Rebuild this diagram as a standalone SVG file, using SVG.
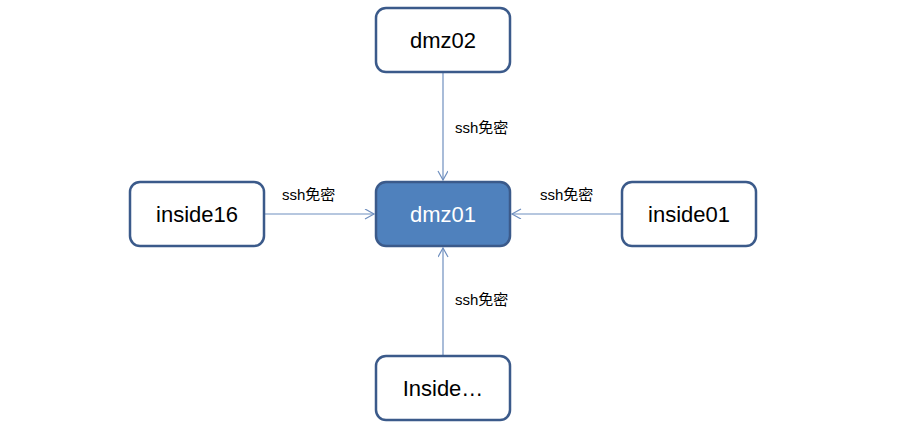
<svg xmlns="http://www.w3.org/2000/svg" width="900" height="429" viewBox="0 0 900 429">
<style>
.n{fill:#fff;stroke:#3b5a8a;stroke-width:2.5}
.c{fill:#4f81bd;stroke:#3b5a8a;stroke-width:2.5}
.t{font-family:"Liberation Sans",Arial,sans-serif;font-size:22px;text-anchor:middle;fill:#000}
.l{font-family:"Liberation Sans","Noto Sans CJK SC",sans-serif;font-size:15px;fill:#000}
.e{stroke:#6f8fbf;stroke-width:1.2;fill:none;marker-end:url(#a)}
</style>
<defs><marker id="a" markerWidth="12" markerHeight="12" refX="10" refY="5" orient="auto" markerUnits="userSpaceOnUse"><path d="M1,0 L10,5 L1,10" fill="none" stroke="#6f8fbf" stroke-width="1.2"/></marker></defs>
<g id="edges">
<line class="e" x1="443" y1="73" x2="443" y2="180"/>
<line class="e" x1="265" y1="214" x2="374" y2="214"/>
<line class="e" x1="621" y1="214" x2="512" y2="214"/>
<line class="e" x1="443" y1="355" x2="443" y2="248"/>
<text class="l" x="455" y="133">ssh免密</text>
<text class="l" x="282" y="200">ssh免密</text>
<text class="l" x="540" y="200">ssh免密</text>
<text class="l" x="455" y="305">ssh免密</text>
</g>
<g id="dmz02"><rect class="n" x="376" y="8" width="134" height="64" rx="10"/><text class="t" x="443" y="48">dmz02</text></g>
<g id="dmz01"><rect class="c" x="376" y="182" width="134" height="64" rx="10"/><text class="t" x="443" y="222" fill="#fff" style="fill:#fff">dmz01</text></g>
<g id="inside16"><rect class="n" x="130" y="182" width="134" height="64" rx="10"/><text class="t" x="197" y="222">inside16</text></g>
<g id="inside01"><rect class="n" x="622" y="182" width="134" height="64" rx="10"/><text class="t" x="689" y="222">inside01</text></g>
<g id="inside"><rect class="n" x="376" y="356" width="134" height="64" rx="10"/><text class="t" x="443" y="396">Inside…</text></g>
</svg>
